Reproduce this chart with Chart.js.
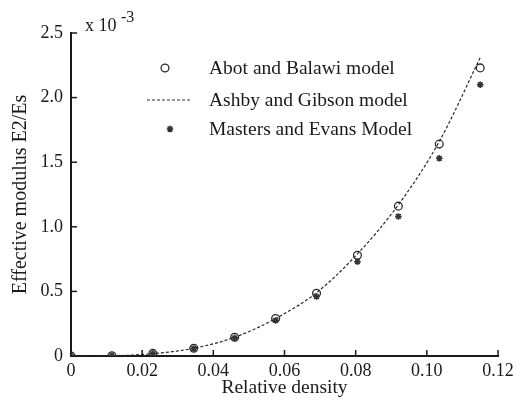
<!DOCTYPE html>
<html>
<head>
<meta charset="utf-8">
<script src="https://cdn.jsdelivr.net/npm/chart.js@4.4.1/dist/chart.umd.min.js"></script>
<style>
  html, body { margin: 0; padding: 0; background: #fff; }
  #wrap { width: 523px; height: 402px; }
</style>
</head>
<body>
<div id="wrap"><canvas id="modulusChart" width="523" height="402"></canvas></div>
<script>
'use strict';

// relative density (x) and effective modulus E2/Es in units of 1e-3 (y)
const density = [0, 0.0115, 0.023, 0.0345, 0.046, 0.0575, 0.069, 0.0805, 0.092, 0.1035, 0.115];
const abotBalawi = [0, 0.002, 0.02, 0.06, 0.145, 0.29, 0.485, 0.78, 1.16, 1.64, 2.23];
const ashbyGibson = [0, 0.002, 0.018, 0.06, 0.145, 0.29, 0.49, 0.79, 1.17, 1.66, 2.31];
const mastersEvans = [0, 0.002, 0.018, 0.058, 0.14, 0.275, 0.46, 0.73, 1.08, 1.53, 2.10];
const xTicks = [0, 0.02, 0.04, 0.06, 0.08, 0.10, 0.12];
const yTicks = [0, 0.5, 1.0, 1.5, 2.0, 2.5];

const SERIF = "'Liberation Serif', 'Times New Roman', serif";
const INK = '#1a1a1a';

const toPoints = (ys) => density.map((x, i) => ({ x, y: ys[i] }));

// inward tick marks, exponent label and the legend
const decorations = {
  id: 'decorations',
  afterDraw(chart) {
    const { ctx, chartArea: a, scales } = chart;
    ctx.save();
    ctx.strokeStyle = INK;
    ctx.lineWidth = 1.5;
    xTicks.forEach(v => {
      if (v === 0) return;
      const px = scales.x.getPixelForValue(v);
      ctx.beginPath();
      ctx.moveTo(px, a.bottom);
      ctx.lineTo(px, a.bottom - 6);
      ctx.stroke();
    });
    yTicks.forEach(v => {
      if (v === 0) return;
      const py = scales.y.getPixelForValue(v);
      ctx.beginPath();
      ctx.moveTo(a.left, py);
      ctx.lineTo(a.left + 6, py);
      ctx.stroke();
    });

    // x 10^-3
    ctx.fillStyle = INK;
    ctx.textBaseline = 'alphabetic';
    ctx.textAlign = 'left';
    ctx.font = '18px ' + SERIF;
    ctx.fillText('x 10', a.left + 14, a.top - 2);
    ctx.font = '16px ' + SERIF;
    ctx.fillText('-3', a.left + 50, a.top - 11);

    // legend
    const ds = chart.data.datasets;
    const rows = [
      { y: 68, set: ds[1], mx: 165 },
      { y: 100, set: ds[0], mx: 168 },
      { y: 129, set: ds[2], mx: 170 }
    ];
    ctx.font = '19.5px ' + SERIF;
    ctx.textBaseline = 'middle';
    rows.forEach(r => {
      ctx.fillStyle = INK;
      ctx.fillText(r.set.label, 209, r.y + 1);
      ctx.save();
      ctx.strokeStyle = r.set.borderColor;
      ctx.lineWidth = r.set.borderWidth;
      if (r.set.showLine) {
        ctx.setLineDash(r.set.borderDash);
        ctx.beginPath();
        ctx.moveTo(147, r.y);
        ctx.lineTo(190, r.y);
        ctx.stroke();
      } else {
        ctx.fillStyle = r.set.backgroundColor;
        Chart.helpers.drawPoint(ctx, {
          pointStyle: r.set.pointStyle,
          radius: r.set.pointRadius,
          borderWidth: r.set.borderWidth,
          rotation: 0
        }, r.mx, r.y);
      }
      ctx.restore();
    });
    ctx.restore();
  }
};

new Chart(document.getElementById('modulusChart').getContext('2d'), {
  type: 'scatter',
  data: {
    datasets: [
      {
        label: 'Ashby and Gibson model',
        data: toPoints(ashbyGibson),
        showLine: true,
        borderColor: '#2a2a2a',
        borderWidth: 1.2,
        borderDash: [3, 2],
        pointRadius: 0,
        cubicInterpolationMode: 'monotone',
        order: 3
      },
      {
        label: 'Abot and Balawi model',
        data: toPoints(abotBalawi),
        showLine: false,
        pointStyle: 'circle',
        pointRadius: 3.9,
        borderColor: '#2a2a2a',
        backgroundColor: 'rgba(255,255,255,0)',
        borderWidth: 1.3,
        order: 2
      },
      {
        label: 'Masters and Evans Model',
        data: toPoints(mastersEvans),
        showLine: false,
        pointStyle: 'star',
        pointRadius: 3.3,
        borderColor: '#333',
        backgroundColor: '#333',
        borderWidth: 1.6,
        order: 1
      }
    ]
  },
  options: {
    responsive: false,
    animation: false,
    layout: { padding: { left: 0, right: 25, top: 33, bottom: 0 } },
    plugins: { legend: { display: false }, tooltip: { enabled: false } },
    scales: {
      x: {
        type: 'linear',
        min: 0,
        max: 0.12,
        afterFit: (s) => { s.height = 46; },
        afterBuildTicks: (s) => { s.ticks = xTicks.map(v => ({ value: v })); },
        grid: { display: false, drawTicks: false, tickLength: 0 },
        border: { display: true, color: INK, width: 2 },
        ticks: {
          color: INK,
          padding: 4,
          maxRotation: 0,
          font: { family: SERIF, size: 18 },
          callback: (v) => v === 0 ? '0' : v.toFixed(2)
        },
        title: {
          display: true,
          text: 'Relative density',
          color: INK,
          font: { family: SERIF, size: 19.5 },
          padding: { top: 0, bottom: 2 }
        }
      },
      y: {
        type: 'linear',
        min: 0,
        max: 2.5,
        afterFit: (s) => { s.width = 71; },
        afterBuildTicks: (s) => { s.ticks = yTicks.map(v => ({ value: v })); },
        grid: { display: false, drawTicks: false, tickLength: 0 },
        border: { display: true, color: INK, width: 2 },
        ticks: {
          color: INK,
          padding: 8,
          font: { family: SERIF, size: 18 },
          callback: (v) => v === 0 ? '0' : v.toFixed(1)
        },
        title: {
          display: true,
          text: 'Effective modulus E2/Es',
          color: INK,
          font: { family: SERIF, size: 20 },
          padding: { top: 9, bottom: 0 }
        }
      }
    }
  },
  plugins: [decorations]
});
</script>
</body>
</html>
